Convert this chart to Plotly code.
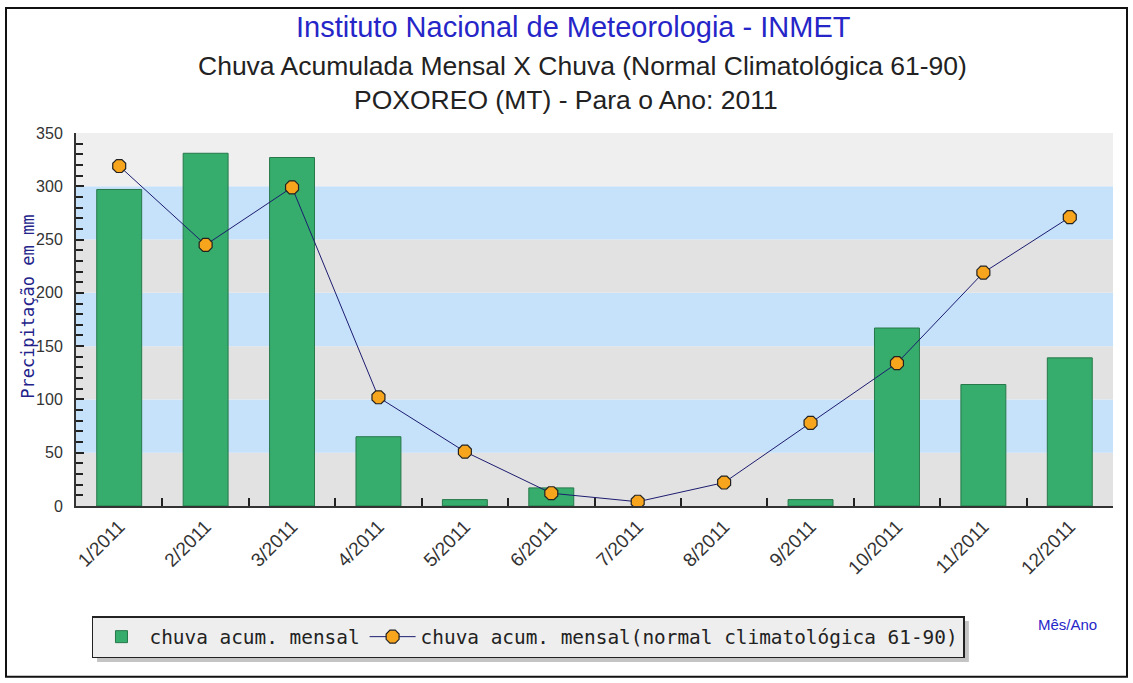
import plotly.graph_objects as go

months = ["1/2011", "2/2011", "3/2011", "4/2011", "5/2011", "6/2011",
          "7/2011", "8/2011", "9/2011", "10/2011", "11/2011", "12/2011"]
chuva_mensal = [297, 331, 327, 65, 6, 17, None, None, 6, 167, 114, 139]
chuva_normal = [319, 245, 299, 102, 51, 12, 4, 22, 78, 134, 219, 271]
band_edges = [0, 50, 100, 150, 200, 250, 300, 350]
band_colors = ["#e2e2e2", "#c6e1fa", "#e2e2e2", "#c6e1fa", "#e2e2e2", "#c6e1fa", "#efefef"]

fig = go.Figure()
fig.add_trace(go.Bar(
    x=months, y=chuva_mensal, name="chuva acum. mensal",
    marker=dict(color="#36ad6c", line=dict(color="#27784a", width=1)),
))
fig.add_trace(go.Scatter(
    x=months, y=chuva_normal, name="chuva acum. mensal(normal climatológica 61-90)",
    mode="lines+markers",
    line=dict(color="#1c1c70", width=1),
    marker=dict(color="#f7a51c", size=14, symbol="octagon", line=dict(color="#222", width=1.2)),
))

shapes = []
for i in range(len(band_colors)):
    shapes.append(dict(type="rect", xref="paper", yref="y", x0=0, x1=1,
                       y0=band_edges[i], y1=band_edges[i + 1],
                       fillcolor=band_colors[i], line=dict(width=0), layer="below"))
# legend shadow
shapes.append(dict(type="rect", xref="paper", yref="paper",
                   x0=0.0203, x1=0.861, y0=-0.418, y1=-0.308,
                   fillcolor="#c4c4c4", line=dict(width=0), layer="below"))
# outer frame
shapes.append(dict(type="rect", xref="paper", yref="paper",
                   x0=-0.0675, x1=1.0135, y0=-0.458, y1=1.335,
                   line=dict(color="#111", width=2), fillcolor="rgba(0,0,0,0)"))

annotations = [
    dict(text="Instituto Nacional de Meteorologia - INMET", x=0.480, y=1.285,
         xref="paper", yref="paper", showarrow=False, yanchor="middle", xanchor="center",
         font=dict(family="Liberation Sans, Arial", size=29, color="#2626c8")),
    dict(text="Chuva Acumulada Mensal X Chuva (Normal Climatológica 61-90)", x=0.488, y=1.18,
         xref="paper", yref="paper", showarrow=False, yanchor="middle", xanchor="center",
         font=dict(family="Liberation Sans, Arial", size=26.5, color="#222")),
    dict(text="POXOREO (MT) - Para o Ano: 2011", x=0.4725, y=1.088,
         xref="paper", yref="paper", showarrow=False, yanchor="middle", xanchor="center",
         font=dict(family="Liberation Sans, Arial", size=26.5, color="#222")),
    dict(text="Precipitação em mm", x=-0.0463, y=0.534, textangle=-90,
         xref="paper", yref="paper", showarrow=False, yanchor="middle", xanchor="center",
         font=dict(family="DejaVu Sans Mono", size=17, color="#22228a")),
    dict(text="Mês/Ano", x=0.9566, y=-0.319,
         xref="paper", yref="paper", showarrow=False, xanchor="center", yanchor="middle",
         font=dict(family="Liberation Sans, Arial", size=15, color="#2626c8")),
]

fig.update_layout(
    width=1133, height=683,
    margin=dict(l=76, r=20, t=133, b=177, autoexpand=False),
    paper_bgcolor="white", plot_bgcolor="white",
    showlegend=True,
    legend=dict(orientation="h", x=0.0154, y=-0.295, xanchor="left", yanchor="top",
                bgcolor="#eeeeee", bordercolor="#222", borderwidth=1.5,
                font=dict(family="DejaVu Sans Mono", size=19.4, color="#222"),
                itemwidth=46, traceorder="normal"),
    bargap=0.48,
    shapes=shapes,
    annotations=annotations,
    xaxis=dict(range=[-0.5, 11.5], showgrid=False, tickangle=-45, ticks="inside",
               tickson="boundaries", ticklen=8, tickwidth=2, tickcolor="#222",
               showline=True, linecolor="#333", linewidth=2,
               tickfont=dict(family="Liberation Sans, Arial", size=19, color="#333")),
    yaxis=dict(range=[0, 350], dtick=50, showgrid=False, zeroline=False,
               ticks="inside", ticklen=8, tickwidth=1.5, tickcolor="#222",
               minor=dict(dtick=10, ticks="inside", ticklen=7, tickcolor="#222"),
               showline=True, linecolor="#333", linewidth=2, ticklabelstandoff=8,
               tickfont=dict(family="Liberation Sans, Arial", size=16, color="#333")),
)

fig.write_html("out.html", config={"displayModeBar": False},
               post_script="document.body.style.margin='0px';")
